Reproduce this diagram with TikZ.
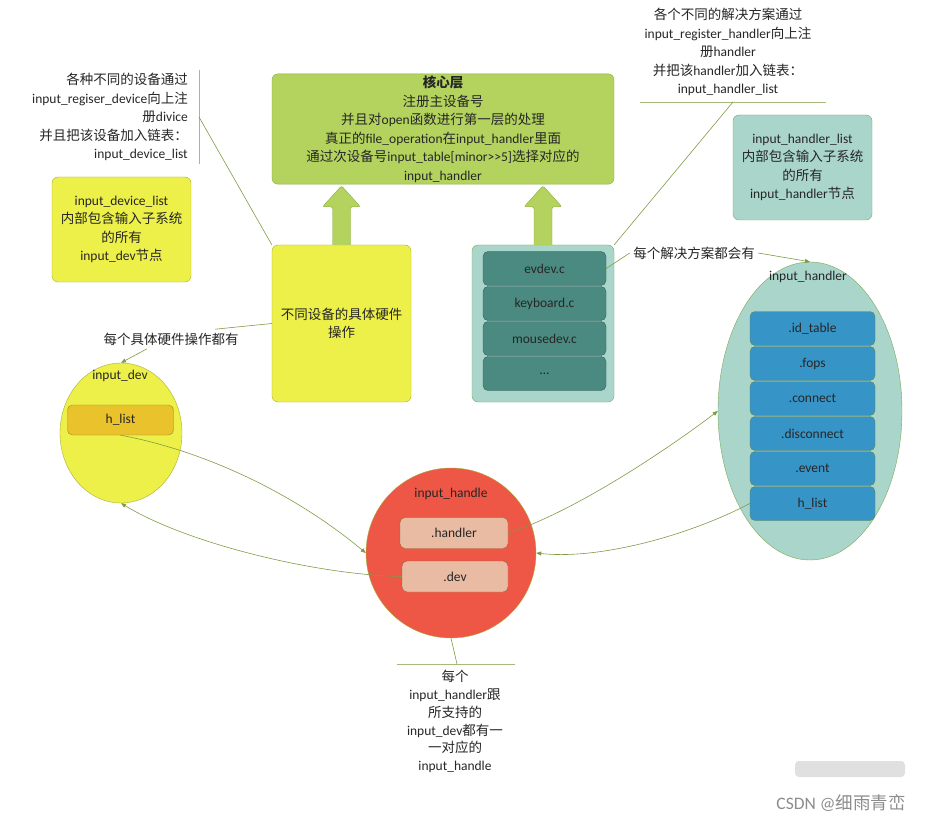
\documentclass[tikz,border=0pt]{standalone}
\usepackage{fontspec}
\setmainfont{Carlito}
\newfontfamily\cjk{Noto Sans CJK SC}
\newcommand\zh[1]{{\cjk #1}}
\usetikzlibrary{shapes.geometric,arrows.meta}
\definecolor{core}{HTML}{B3D35E}
\definecolor{coreln}{HTML}{8CAD3F}
\definecolor{dev}{HTML}{EDF049}
\definecolor{devln}{HTML}{A9AE3A}
\definecolor{hnd}{HTML}{AAD5CA}
\definecolor{hndln}{HTML}{7FA85A}
\definecolor{drv}{HTML}{4B8A80}
\definecolor{fld}{HTML}{3794C6}
\definecolor{hls}{HTML}{E9C22C}
\definecolor{hdl}{HTML}{EE5646}
\definecolor{hdf}{HTML}{E9BBA3}
\definecolor{lnk}{HTML}{7E9C44}
\tikzset{
  box/.style={draw, rounded corners=6pt, align=center, inner sep=2pt},
  cell/.style={draw, rounded corners=5pt, minimum height=34pt, inner sep=1pt},
  link/.style={draw=lnk, line width=0.6pt},
  note/.style={draw=lnk!70, line width=0.8pt},
  arr/.style={-{Triangle[length=5pt,width=4pt]}}}

\begin{document}
\begin{tikzpicture}[x=1pt, y=-1pt, font=\fontsize{13.5}{18.5}\selectfont, text=black!85]
\fill[white] (0,0) rectangle (932,821);
\useasboundingbox (0,0) rectangle (932,821);
\node[box, fill=core, draw=coreln, minimum width=342pt, minimum height=108pt] (core) at (443,129) {\textbf{\zh{核心层}}\\\zh{注册主设备号}\\\zh{并且对}open\zh{函数进行第一层的处理}\\\zh{真正的}file\_operation\zh{在}input\_handler\zh{里面}\\\zh{通过次设备号}input\_table[minor>{}>5]\zh{选择对应的}\\input\_handler};
\node[box, fill=dev, draw=devln, minimum width=139pt, minimum height=105pt] (dl) at (121.5,229.5) {input\_device\_list\\\zh{内部包含输入子系统}\\\zh{的所有}\\input\_dev\zh{节点}};
\node[box, fill=dev, draw=devln, minimum width=139pt, minimum height=157pt] (hw) at (341.5,323.5) {\zh{不同设备的具体硬件}\\\zh{操作}};
\node[box, fill=hnd, draw=hndln, minimum width=142pt, minimum height=157pt] (hd) at (543,323.5) {};
\foreach \t [count=\i] in {evdev.c, keyboard.c, mousedev.c, \ldots}
  \node[cell, fill=drv, draw=drv!70!black, minimum width=123pt] (ev\i) at (544.5,233.5+35*\i) {\t};
\node[box, fill=hnd, draw=hndln, minimum width=139pt, minimum height=105pt] (hl) at (802.5,167.5) {input\_handler\_list\\\zh{内部包含输入子系统}\\\zh{的所有}\\input\_handler\zh{节点}};
\foreach \n in {hw,hd}
  \draw[fill=core, draw=coreln, rounded corners=2pt] ([xshift=-9pt]\n.north) -- ++(0,-38) -- ++(-10,0) -- ++(19,-21) -- ++(19,21) -- ++(-10,0) -- ++(0,38);
\node[align=right, anchor=east, inner sep=3pt] (ann1) at (191,117) {\zh{各种不同的设备通过}\\input\_regiser\_device\zh{向上注}\\\zh{册}divice\\\zh{并且把该设备加入链表：}\\input\_device\_list};
\draw[note] ([xshift=8pt]ann1.north east) -- ([xshift=8pt]ann1.south east);
\draw[link] ([xshift=8pt]ann1.east) -- (hw.north west);
\node[align=center] (ann2) at (728,52) {\zh{各个不同的解决方案通过}\\input\_register\_handler\zh{向上注}\\\zh{册}handler\\\zh{并把该}handler\zh{加入链表：}\\input\_handler\_list};
\coordinate (u1) at (640,102);
\coordinate (u2) at (826,102);
\coordinate (u0) at (733,102);
\draw[note] (u1) -- (u2);
\draw[link] (u0) -- (hd.north east);
\node[ellipse, draw=devln, fill=dev, minimum width=122pt, minimum height=140pt, inner sep=0pt] (idev) at (121,433) {};
\node (idevt) at (120,376) {input\_dev};
\node[cell, fill=hls, draw=hls!70!black, minimum width=106pt, minimum height=30pt] (dh) at (120.5,420) {h\_list};
\node (lab1) at (171,339) {\zh{每个具体硬件操作都有}};
\draw[link] (hw.west) -- ([xshift=-27pt]lab1.north east);
\draw[link, arr] ([xshift=-24pt]lab1.south) -- (idev.north);
\node[circle, draw=devln, fill=hdl, minimum size=170pt, inner sep=0pt] (ihe) at (451,553) {};
\node (ihet) at (451,494) {input\_handle};
\node[cell, fill=hdf, draw=brown!80!black, minimum width=108pt, minimum height=31pt] (dh2) at (454,533) {.handler};
\node[cell, fill=hdf, draw=brown!80!black, minimum width=106pt, minimum height=31pt] (dv) at (455,576.5) {.dev};
\node[ellipse, draw=hndln, fill=hnd, minimum width=184pt, minimum height=298pt, inner sep=0pt] (ihr) at (810,411) {};
\node (ihrt) at (808,277) {input\_handler};
\foreach \t [count=\i] in {.id\_table, .fops, .connect, .disconnect, .event, h\_list}
  \node[cell, fill=fld, draw=hndln!80!black, minimum width=125pt] (hi\i) at (812.5,293.5+35*\i) {\t};
\node (lab2) at (694,253) {\zh{每个解决方案都会有}};
\draw[link] (ev1.east) -- (lab2.west);
\draw[link, arr] (lab2.east) -- (ihr.north);
\draw[link, arr] (dh.south) .. controls (200,450) and (290,490) .. (ihe.west);
\draw[link, arr] (dv.west) .. controls (320,575) and (190,545) .. (idev.south);
\draw[link, arr] (dh2.east) .. controls (580,510) and (680,440) .. (ihr.west);
\draw[link, arr] (hi6.west) .. controls (690,535) and (600,560) .. (ihe.east);
\coordinate (b1) at (397,664);
\coordinate (b2) at (515,664);
\coordinate (b0) at (457,664);
\draw[note] (b1) -- (b2);
\draw[link] (ihe.south) -- (b0);
\node[align=center, font=\fontsize{13.5}{17.8}\selectfont] (bt) at (455,721.5) {\zh{每个}\\input\_handler\zh{跟}\\\zh{所支持的}\\input\_dev\zh{都有一}\\\zh{一对应的}\\input\_handle};
\fill[black!12, rounded corners=4pt] (795,761) rectangle (905,777);
\node[text=black!45, font=\fontsize{17.5}{20}\selectfont] (wm) at (841,803) {CSDN @\zh{细雨青峦}};
\end{tikzpicture}
\end{document}
